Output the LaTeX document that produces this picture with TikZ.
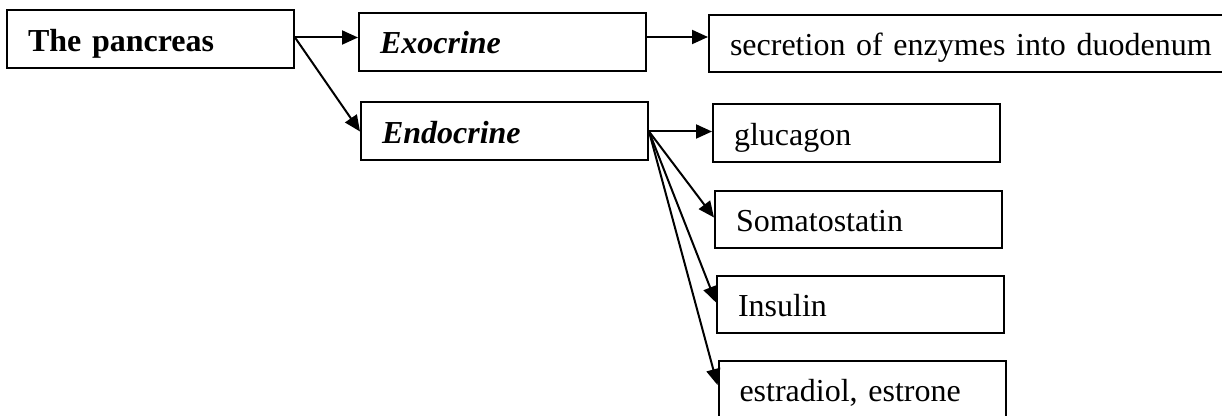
\documentclass[tikz,border=0pt]{standalone}
\usepackage{fontspec}
\setmainfont{Liberation Serif}
\usetikzlibrary{arrows.meta}

\begin{document}
\begin{tikzpicture}[x=.5pt,y=-.5pt,
    box/.style={draw, line width=1pt, inner xsep=10.5pt, minimum height=29pt,
                text width=122.5pt, align=left, text height=15.5pt, text depth=3.5pt,
                font=\fontsize{16}{19}\selectfont},
    arr/.style={line width=1pt, -{Triangle[length=8pt,width=7pt]}}]
            \useasboundingbox (0,0) rectangle (1222,416);
            \clip (0,0) rectangle (1222,416);

            \node[box] (P) at (150.5,39.5) {\textbf{The pancreas}};
            \node[box] (Ex) at (502.5,42) {\textbf{\textit{Exocrine}}};
            \node[box] (En) at (504.5,131.5) {\textbf{\textit{Endocrine}}};
            \node[box, text width=242pt, minimum height=28.5pt] (Sec) at (972,43.5) {secretion of enzymes into duodenum};

            \node[box] (Gl) at (856.5,133.5) {glucagon};
            \node[box, minimum height=28.5pt] (So) at (858.5,219.5) {Somatostatin};
            \node[box, minimum height=28.5pt] (In) at (860.5,304.5) {Insulin};
            \node[box] (Es) at (862,390) {estradiol, estrone};

            \draw[arr] ([yshift=1pt]P.east) -- ([yshift=1pt]P.east -| Ex.west);
            \draw[arr] ([yshift=1pt]P.east) -- (En.west);
            \draw[arr] ([yshift=2.5pt]Ex.east) -- ([yshift=2.5pt]Ex.east -| Sec.west);
            \draw[arr] (En.east) -- (En.east -| Gl.west);
            \foreach \t/\s in {So/1pt,In/1pt,Es/2.5pt}
                \draw[arr] (En.east) -- ([yshift=\s]\t.west);
        \end{tikzpicture}
\end{document}
